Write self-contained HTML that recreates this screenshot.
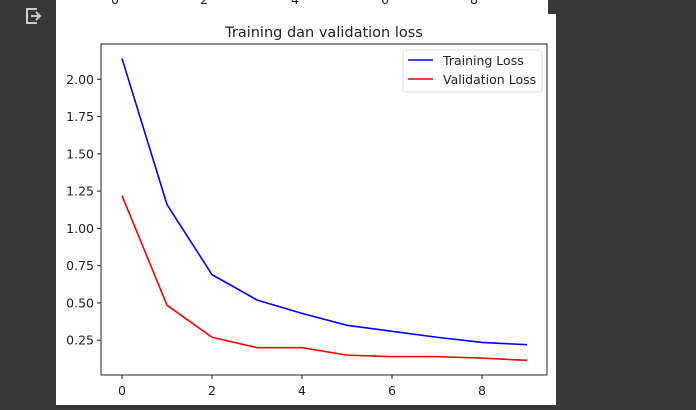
<!DOCTYPE html>
<html><head><meta charset="utf-8"><style>
body{margin:0;width:696px;height:410px;background:#383838;overflow:hidden;font-family:"DejaVu Sans","Liberation Sans",sans-serif}
svg{position:absolute;left:0;top:0}
</style></head><body>
<svg width="696" height="410">
<rect x="56" y="0" width="492" height="16" fill="#fff"/>
<rect x="56" y="14" width="500" height="391" fill="#fff"/>
<g fill="none" stroke="#ccc" stroke-width="2">
<path d="M37 9 H27 V23 H37"/><path d="M31 16 H40 M36 12 L40 16 L36 20"/>
</g>
<g id="prev" font-size="12.5" fill="#222" text-anchor="middle">
<text x="115" y="4">0</text><text x="204" y="4">2</text><text x="295" y="4">4</text><text x="385" y="4">6</text><text x="474" y="4">8</text>
</g>
<text x="324" y="37" font-size="14.5" text-anchor="middle" fill="#222">Training dan validation loss</text>
<g id="ticks" font-size="12.5" fill="#222"></g>
<g id="lines"></g>
<rect x="101" y="44" width="446" height="331" fill="none" stroke="#222" stroke-width="1"/>
<g>
<rect x="403" y="50" width="139" height="42" rx="2" fill="#fff" stroke="#ddd"/>
<line x1="408" y1="60" x2="433" y2="60" stroke="#0000ff" stroke-width="1.6"/>
<text x="443" y="65" font-size="12.5" fill="#222">Training Loss</text>
<line x1="408" y1="79" x2="433" y2="79" stroke="#ff0000" stroke-width="1.6"/>
<text x="443" y="84" font-size="12.5" fill="#222">Validation Loss</text>
</g>
</svg>
<script>
const epochs=[0,1,2,3,4,5,6,7,8,9];
const trainLoss=[2.14,1.16,0.69,0.52,0.43,0.35,0.31,0.27,0.235,0.22];
const valLoss=[1.22,0.485,0.27,0.20,0.20,0.15,0.14,0.14,0.13,0.115];
const xTicks=[0,2,4,6,8];
const yTicks=[0.25,0.5,0.75,1.0,1.25,1.5,1.75,2.0];
const NS="http://www.w3.org/2000/svg";
const xs=v=>122+v*45;
const ys=v=>79.3+(2-v)*149.1;
const tg=document.getElementById('ticks');
function mk(t,a,p){const e=document.createElementNS(NS,t);for(const k in a)e.setAttribute(k,a[k]);p.appendChild(e);return e;}
xTicks.forEach(v=>{
 const l=mk('line',{x1:xs(v),x2:xs(v),y1:375,y2:379,stroke:'#222'},tg);
 
 
 const t=mk('text',{x:xs(v),y:395,'text-anchor':'middle'},tg);t.textContent=v;
 
 
});
yTicks.forEach(v=>{
 const l=mk('line',{x1:97,x2:101,y1:ys(v),y2:ys(v),stroke:'#222'},tg);
 
 
 const t=mk('text',{x:94,y:ys(v)+4.5,'text-anchor':'end'},tg);t.textContent=v.toFixed(2);
 
 
});
const lg=document.getElementById('lines');
function line(d,c,n){
 const p=mk('polyline',{points:d.map((v,i)=>xs(epochs[i])+','+ys(v)).join(' '),fill:'none',stroke:c,'stroke-width':1.6},lg);
 
 
}
line(trainLoss,'#0000ff','training-loss-line');
line(valLoss,'#ff0000','validation-loss-line');
</script>
</body></html>
